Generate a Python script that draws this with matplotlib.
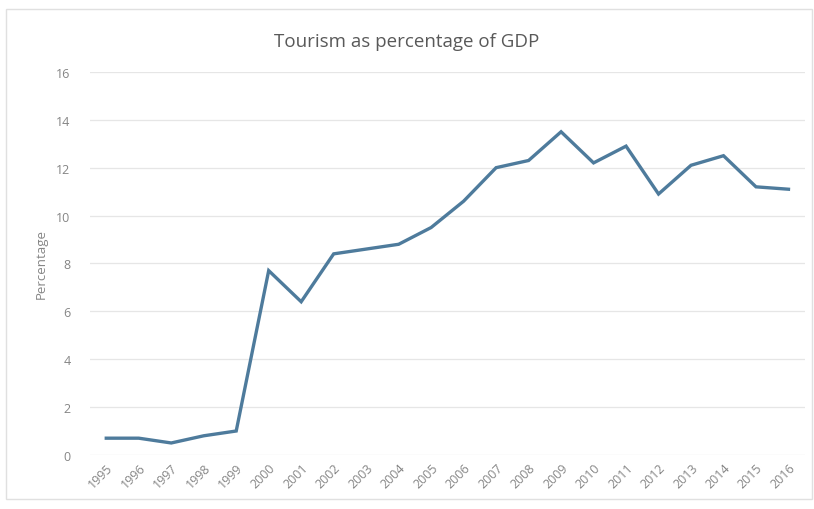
import matplotlib
matplotlib.use("Agg")
import matplotlib.pyplot as plt
from matplotlib.patches import Rectangle

years = [str(y) for y in range(1995, 2017)]
values = [0.7, 0.7, 0.5, 0.8, 1.0, 7.7, 6.4, 8.4, 8.6, 8.8, 9.5, 10.6,
          12.0, 12.3, 13.5, 12.2, 12.9, 10.9, 12.1, 12.5, 11.2, 11.1]
yticks = [0, 2, 4, 6, 8, 10, 12, 14, 16]

plt.rcParams['font.family'] = ['Open Sans', 'DejaVu Sans']

fig = plt.figure(figsize=(8.14, 5.10), dpi=100)
fig.patches.append(Rectangle((0.007, 0.02), 0.99, 0.96, transform=fig.transFigure,
                             fill=False, edgecolor='#e0e0e0', linewidth=1.0))
ax = fig.add_axes([0.1106, 0.106, 0.878, 0.751])

x = list(range(len(years)))
ax.plot(x, values, color='#4e7b9c', linewidth=2.4, solid_joinstyle='miter')
ax.set_xlim(-0.5, len(years) - 0.5)
ax.set_ylim(0, 16)
ax.set_yticks(yticks)
ax.set_yticklabels([str(v) for v in yticks])
ax.set_xticks(x)
ax.set_xticklabels(years, rotation=45, ha='right', rotation_mode='anchor')
ax.grid(axis='y', color='#e6e6e6', linewidth=0.9)
ax.set_axisbelow(True)
for s in ax.spines.values():
    s.set_visible(False)
ax.tick_params(axis='both', length=0, colors='#858585', labelsize=9)
ax.tick_params(axis='y', pad=14)
ax.tick_params(axis='x', pad=4)
ax.set_ylabel('Percentage', color='#858585', fontsize=9.5, labelpad=6)
fig.text(0.5, 0.918, 'Tourism as percentage of GDP', ha='center', va='center',
         fontsize=13.5, color='#595959')

fig.savefig('out.png', dpi=100)
